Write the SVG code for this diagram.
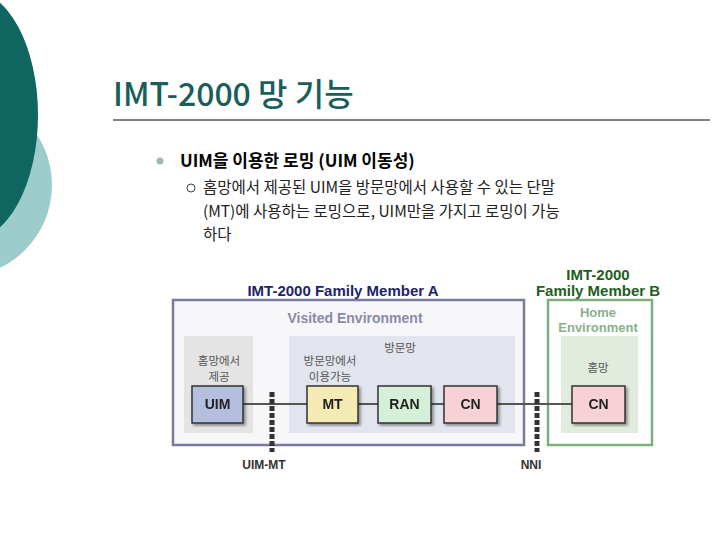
<svg xmlns="http://www.w3.org/2000/svg" width="720" height="540" viewBox="0 0 720 540">
<style>
.k{font-family:"Noto Sans CJK KR","Liberation Sans",sans-serif}
.node rect.b{stroke:#333;stroke-width:1.5}
.lbl{font-family:"Liberation Sans","Noto Sans CJK KR",sans-serif;font-weight:bold;font-size:14px;text-anchor:middle}
.sm{font-family:"Noto Sans CJK KR","Liberation Sans",sans-serif;font-size:11.5px;text-anchor:middle;fill:#555}
</style>
<defs><filter id="sh"><feDropShadow dx="2" dy="2" stdDeviation="1.5" flood-opacity="0.4"/></filter></defs>
<rect width="720" height="540" fill="#fff"/>
<circle cx="-40" cy="185" r="92" fill="#9ccccc"/>
<ellipse cx="-30" cy="115" rx="68" ry="125" fill="#0f6660"/>
<text x="113" y="106" class="k" font-size="32" font-weight="500" fill="#1a5e5a">IMT-2000 망 기능</text>
<line x1="113" y1="120" x2="710" y2="120" stroke="#000" stroke-width="1"/>
<circle cx="160" cy="161" r="3.5" fill="#a0b8b8"/>
<text x="180" y="167" class="k" font-size="17" font-weight="bold" fill="#000">UIM을 이용한 로밍 (UIM 이동성)</text>
<circle cx="191" cy="188" r="4" fill="none" stroke="#444" stroke-width="1"/>
<text class="k" font-size="15.5" fill="#222"><tspan x="203" y="193">홈망에서 제공된 UIM을 방문망에서 사용할 수 있는 단말</tspan><tspan x="203" y="217">(MT)에 사용하는 로밍으로, UIM만을 가지고 로밍이 가능</tspan><tspan x="203" y="240">하다</tspan></text>

<g id="memberA"><rect x="173" y="300" width="351" height="145" fill="#f7f7fa" stroke="#7a7a9a" stroke-width="2.5"/>
<text x="343" y="296" class="lbl" style="font-size:15px;fill:#1e2466">IMT-2000 Family Member A</text>
<text x="355" y="323" class="lbl" style="fill:#8a8aa8">Visited Environment</text></g>
<g id="memberB"><rect x="548" y="300" width="104" height="145" fill="#fff" stroke="#7cae7c" stroke-width="2.5"/>
<text x="598" y="280" class="lbl" style="font-size:15px;fill:#1e5e1e">IMT-2000</text>
<text x="598" y="296" class="lbl" style="font-size:15px;fill:#1e5e1e">Family Member B</text>
<text x="598" y="317" class="lbl" style="font-size:13px;fill:#8ab08a">Home</text>
<text x="598" y="332" class="lbl" style="font-size:13px;fill:#8ab08a">Environment</text></g>
<g id="homeArea"><rect x="184" y="336" width="69" height="97" fill="#e4e4e4"/>
<text class="sm"><tspan x="219" y="365">홈망에서</tspan><tspan x="219" y="381">제공</tspan></text></g>
<g id="visitedArea"><rect x="289" y="336" width="226" height="97" fill="#e2e4ee"/>
<text x="400" y="352" class="sm">방문망</text>
<text class="sm"><tspan x="330" y="365">방문망에서</tspan><tspan x="330" y="381">이용가능</tspan></text></g>
<g id="homeNet"><rect x="561" y="336" width="77" height="97" fill="#e2ecde"/>
<text x="598" y="372" class="sm">홈망</text></g>

<g id="connectors" stroke="#555" stroke-width="2">
<line x1="243" y1="404" x2="307" y2="404"/>
<line x1="358" y1="404" x2="378" y2="404"/>
<line x1="431" y1="404" x2="444" y2="404"/>
<line x1="497" y1="404" x2="572" y2="404"/>
<line x1="272" y1="392" x2="272" y2="452" stroke="#333" stroke-width="5" stroke-dasharray="5,2"/>
<line x1="537" y1="392" x2="537" y2="452" stroke="#333" stroke-width="5" stroke-dasharray="5,2"/>
</g>
<text x="264" y="469" class="lbl" style="font-size:12px;fill:#333">UIM-MT</text>
<text x="531" y="469" class="lbl" style="font-size:12px;fill:#333">NNI</text>

<g id="uim" class="node" filter="url(#sh)"><rect class="b" x="192" y="386" width="51" height="37" fill="#b4bfe0"/><text x="217.5" y="409" class="lbl" fill="#222">UIM</text></g>
<g id="mt" class="node" filter="url(#sh)"><rect class="b" x="307" y="386" width="51" height="37" fill="#f3eab4"/><text x="332.5" y="409" class="lbl" fill="#222">MT</text></g>
<g id="ran" class="node" filter="url(#sh)"><rect class="b" x="378" y="386" width="53" height="37" fill="#d4f0d8"/><text x="404.5" y="409" class="lbl" fill="#222">RAN</text></g>
<g id="cnA" class="node" filter="url(#sh)"><rect class="b" x="444" y="386" width="53" height="37" fill="#f6d2d6"/><text x="470.5" y="409" class="lbl" fill="#222">CN</text></g>
<g id="cnB" class="node" filter="url(#sh)"><rect class="b" x="572" y="386" width="53" height="37" fill="#f6d2d6"/><text x="598.5" y="409" class="lbl" fill="#222">CN</text></g>
</svg>
